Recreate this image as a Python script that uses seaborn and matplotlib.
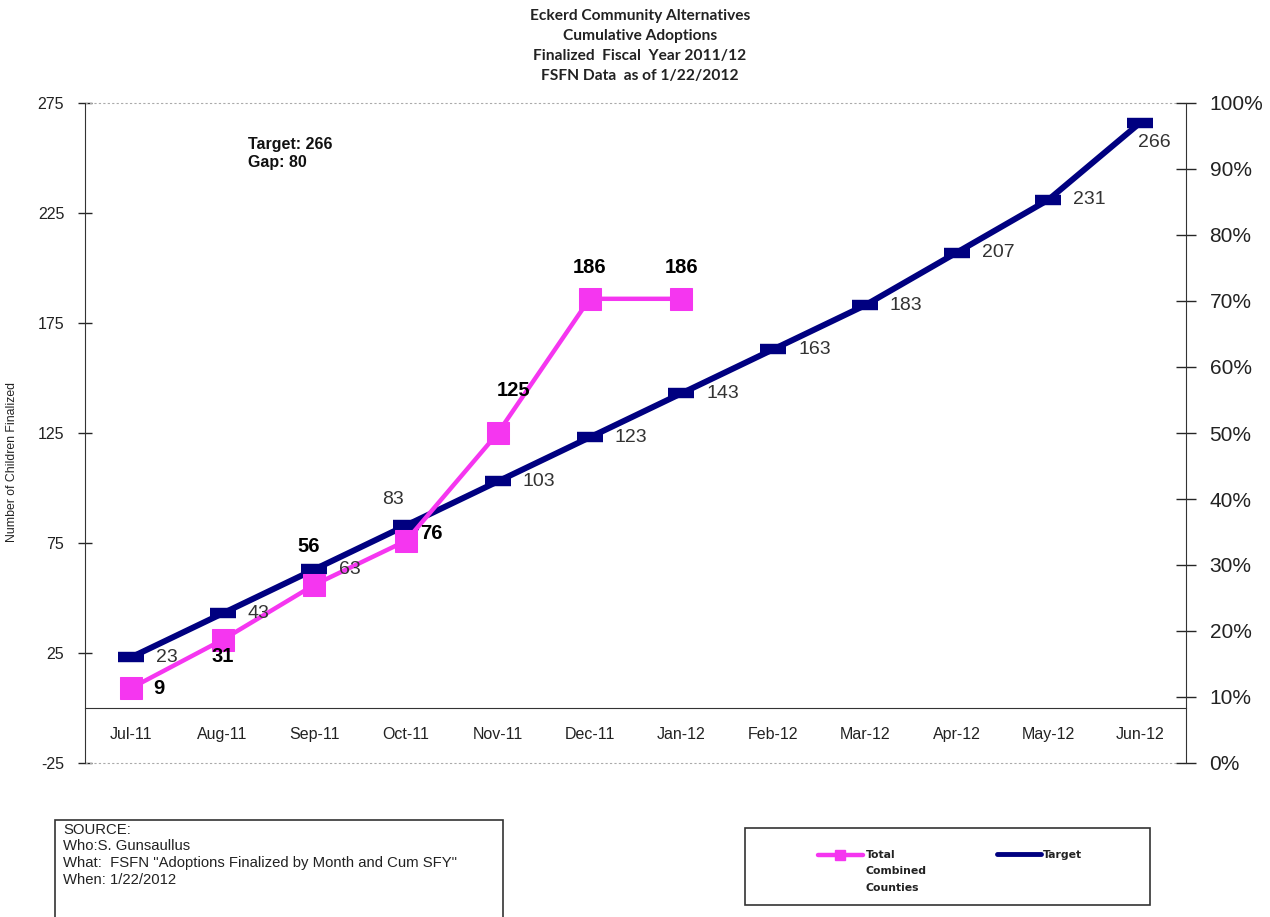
import matplotlib
matplotlib.use("Agg")
import matplotlib.pyplot as plt
from matplotlib.patches import Rectangle
from matplotlib.lines import Line2D
from matplotlib.ticker import PercentFormatter
import numpy as np
import pandas as pd
import seaborn as sns

months = ['Jul-11', 'Aug-11', 'Sep-11', 'Oct-11', 'Nov-11', 'Dec-11',
          'Jan-12', 'Feb-12', 'Mar-12', 'Apr-12', 'May-12', 'Jun-12']
target = [23, 43, 63, 83, 103, 123, 143, 163, 183, 207, 231, 266]
actual = [9, 31, 56, 76, 125, 186, 186]

title_lines = ['Eckerd Community Alternatives', 'Cumulative Adoptions',
               'Finalized  Fiscal  Year 2011/12', 'FSFN Data  as of 1/22/2012']
source_lines = ['SOURCE:', 'Who:S. Gunsaullus',
                'What:  FSFN "Adoptions Finalized by Month and Cum SFY"',
                'When: 1/22/2012']
legend_lines = ['Total', 'Combined', 'Counties']

PINK = '#F536F0'
NAVY = '#000080'

sns.set_style('white')
plt.rcParams['font.family'] = ['Liberation Sans', 'DejaVu Sans']
plt.rcParams['axes.unicode_minus'] = False

df_t = pd.DataFrame({'pos': np.arange(len(target)), 'val': target})
df_a = pd.DataFrame({'pos': np.arange(len(actual)), 'val': actual})

W, H = 1270, 917
fig = plt.figure(figsize=(12.7, 9.17), dpi=100)
ax = fig.add_axes([85 / W, 1 - 763 / H, (1186 - 85) / W, 660 / H])

sns.lineplot(data=df_t, x='pos', y='val', ax=ax, color=NAVY, lw=4.3,
             marker='_', markersize=19, markeredgewidth=7.5, markeredgecolor=NAVY,
             zorder=3)
sns.lineplot(data=df_a, x='pos', y='val', ax=ax, color=PINK, lw=3.2,
             marker='s', markersize=15.5, markeredgecolor=PINK, markerfacecolor=PINK,
             zorder=4)

ax.set_xlim(-0.5, len(months) - 0.5)
ax.set_ylim(-25, 275)
ax.set_yticks(np.arange(-25, 276, 50))
ax.set_xticks(np.arange(len(months)))
ax.set_xticklabels(months)
ax.set_xticks(np.arange(len(months) + 1) - 0.5, minor=True)
ax.tick_params(axis='x', which='major', length=0, pad=14, labelsize=11.5,
               labelcolor='#222222')
ax.tick_params(axis='x', which='minor', length=10, direction='inout', width=1)
ax.tick_params(axis='y', length=10, direction='inout', width=1, labelsize=11.5,
               left=True, labelcolor='#222222', pad=10)
ax.set_xlabel('')
ax.set_ylabel('Number of Children Finalized', fontsize=8.8, color='#222222')
ax.yaxis.set_label_coords((18 - 85) / 1101, (763 - 462) / 660)

ax.spines['bottom'].set_position(('data', 0))
ax.spines['bottom'].set_color('#333333')
ax.spines['left'].set_color('#333333')
ax.spines['right'].set_visible(False)
ax.spines['top'].set_visible(False)
for yv in (275, -25):
    ax.axhline(yv, color='#aaaaaa', lw=0.8, ls=(0, (2, 2)), zorder=1, clip_on=False)

ax2 = ax.twinx()
ax2.set_ylim(0, 1)
ax2.set_yticks(np.arange(0, 1.01, 0.1))
ax2.yaxis.set_major_formatter(PercentFormatter(1.0, decimals=0))
ax2.tick_params(axis='y', length=14, direction='inout', width=1, labelsize=15,
                pad=10, labelcolor='#222222')
for s in ['top', 'left', 'bottom']:
    ax2.spines[s].set_visible(False)
ax2.spines['right'].set_color('#333333')

# target data labels
for i, v in enumerate(target):
    dx, dy, ha = (25, 0, 'left')
    if i == 3:
        dx, dy, ha = (-2, 26, 'right')
    if i == len(target) - 1:
        dx, dy, ha = (-2, -20, 'left')
    ax.annotate(str(v), (i, v), xytext=(dx, dy), textcoords='offset pixels',
                ha=ha, va='center', fontsize=14, color='#333333', zorder=5)

# actual data labels
a_off = [(28, 0), (0, -17), (-6, 38), (25, 7), (16, 43), (0, 31), (0, 31)]
for i, v in enumerate(actual):
    dx, dy = a_off[i]
    ax.annotate(str(v), (i, v), xytext=(dx, dy), textcoords='offset pixels',
                ha='center', va='center', fontsize=14.5, fontweight='bold',
                color='black', zorder=5)

fig.text(248 / W, 1 - 153 / H, 'Target: 266\nGap: 80', fontsize=11.5,
         fontweight='bold', va='center', ha='left', linespacing=1.25,
         color='#111111')

for k, line in enumerate(title_lines):
    fig.text(0.504, 1 - (16 + 20 * k) / H, line, ha='center', va='center',
             fontsize=11.2, fontweight='bold', family=['Lato', 'DejaVu Sans'],
             color='#222222')

# source box
fig.patches.append(Rectangle((55 / W, -0.01), 448 / W, 97 / H + 0.01,
                             transform=fig.transFigure, fill=False,
                             edgecolor='#333333', lw=1.2))
for k, line in enumerate(source_lines):
    fig.text(63 / W, 1 - (830 + 16.5 * k) / H, line, ha='left', va='center',
             fontsize=10.7, color='#222222')

# legend box
fig.patches.append(Rectangle((745 / W, 1 - 905 / H), 405 / W, 77 / H,
                             transform=fig.transFigure, fill=False,
                             edgecolor='#333333', lw=1.2))
fig.add_artist(Line2D([818 / W, 863 / W], [1 - 855 / H] * 2, color=PINK, lw=3.2,
                      transform=fig.transFigure))
fig.add_artist(Line2D([840 / W], [1 - 855 / H], color=PINK, marker='s',
                      markersize=6.5, ls='none', transform=fig.transFigure))
fig.add_artist(Line2D([997 / W, 1041 / W], [1 - 854 / H] * 2, color=NAVY, lw=3.5,
                      transform=fig.transFigure))
leg_font = {'family': 'DejaVu Sans', 'size': 7.8, 'weight': 'bold', 'color': '#222222'}
for k, line in enumerate(legend_lines):
    fig.text(866 / W, 1 - (855 + 16.5 * k) / H, line, ha='left', va='center',
             **leg_font)
fig.text(1043 / W, 1 - 855 / H, 'Target', ha='left', va='center', **leg_font)

fig.savefig('out.png', dpi=100)
